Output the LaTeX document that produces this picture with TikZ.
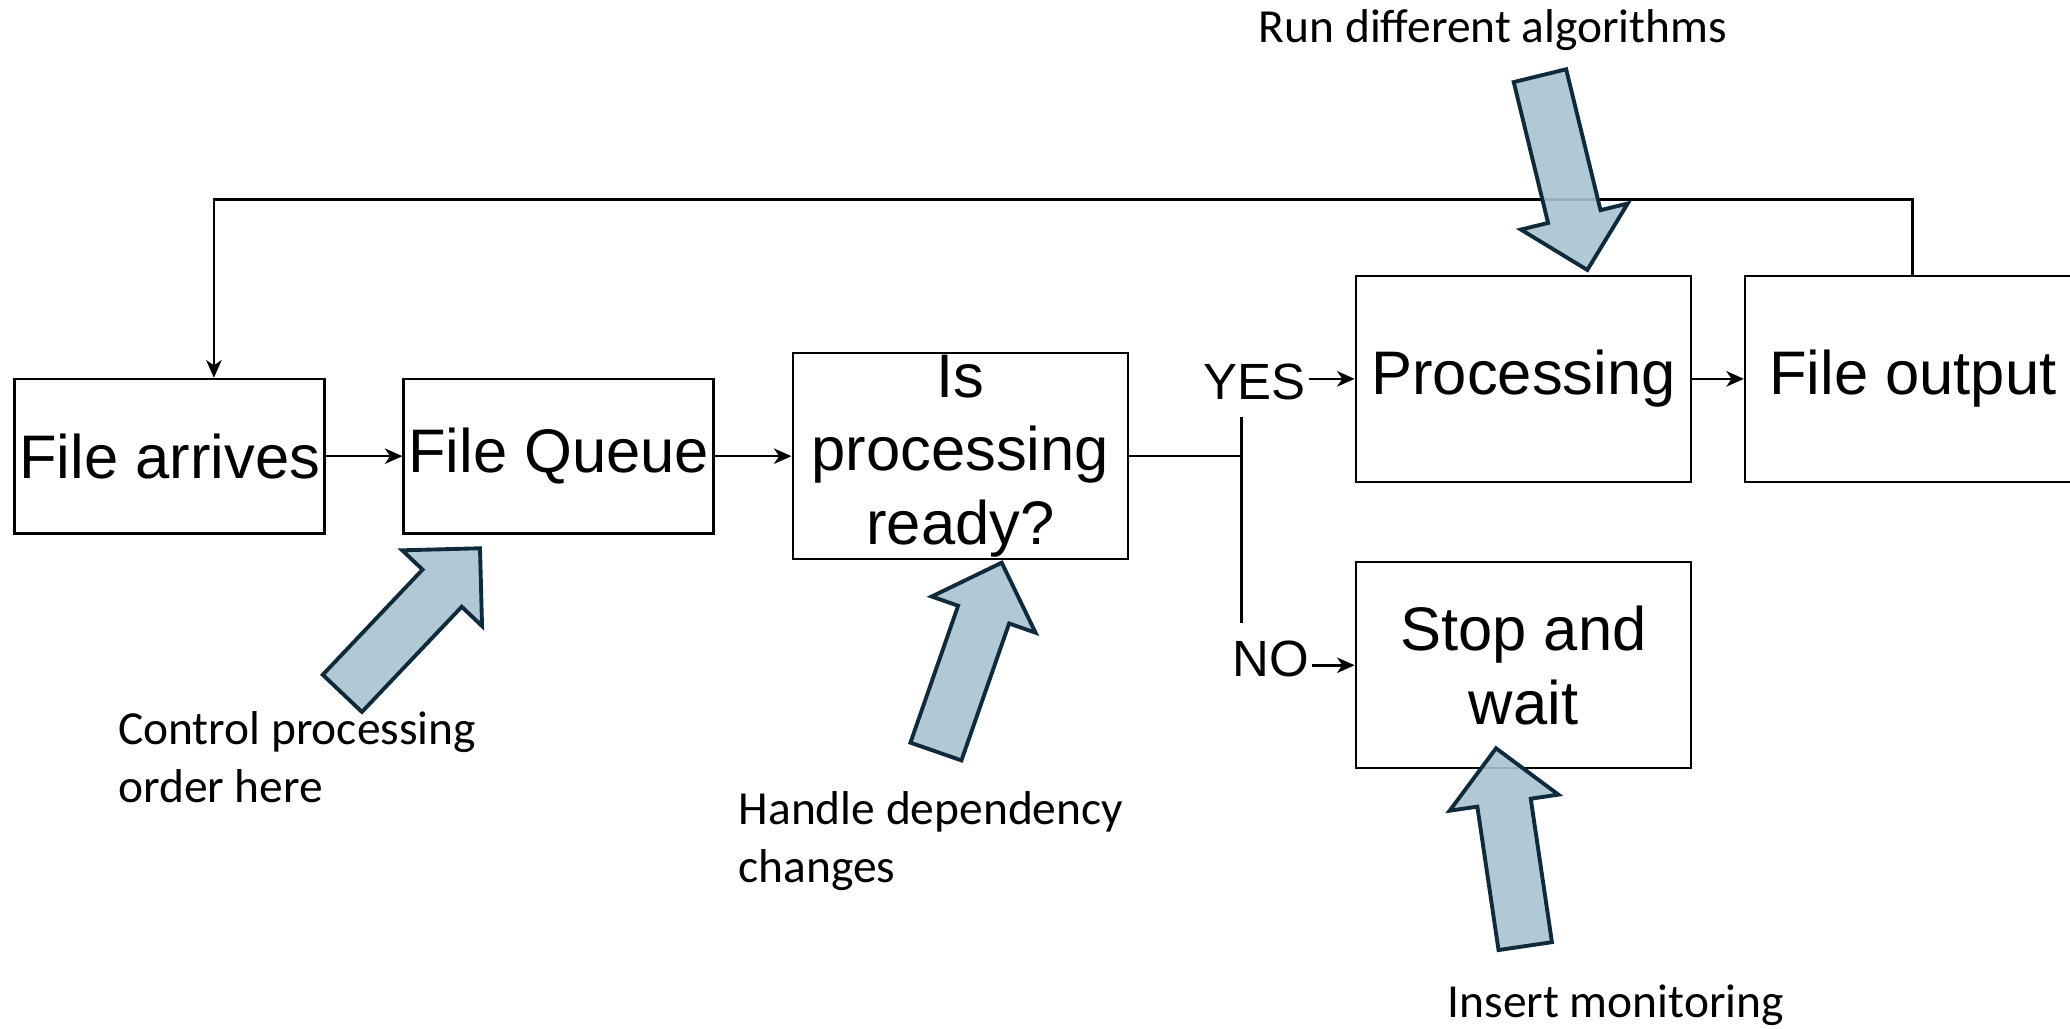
\documentclass[tikz,border=0pt]{standalone}
\usepackage{fontspec}
\setmainfont{Liberation Sans}
\newfontfamily\notefont{Carlito}
\usetikzlibrary{arrows.meta,positioning}

\definecolor{hintfill}{HTML}{A7C3CF}
\definecolor{hintline}{HTML}{0F2A3A}

\tikzset{
  stage/.style={draw, line width=0.7pt, inner sep=0pt, align=center,
    font=\fontsize{17.5}{21}\selectfont},
  smallstage/.style={stage, minimum width=3.10cm, minimum height=1.545cm},
  bigstage/.style={stage, minimum width=3.353cm, minimum height=2.06cm},
  flow/.style={line width=0.75pt, -{Stealth[length=5pt,width=4.4pt,inset=1.5pt]}},
  answer/.style={fill=white, inner xsep=1pt, inner ysep=5pt,
    font=\fontsize{14.5}{17}\selectfont},
  note/.style={inner sep=0pt, align=left, font=\notefont\fontsize{13.5}{16.5}\selectfont},
  hint/.style={draw=hintline, line width=1.1pt, fill=hintfill, fill opacity=0.9}
}

% block arrow, given its tip and the direction it points to
\newcommand{\hintarrow}[2]{%
  \draw[hint, shift={#1}, rotate=#2]
    (0,0) -- (-0.55,0.55) -- (-0.55,0.27) -- (-2,0.27)
    -- (-2,-0.27) -- (-0.55,-0.27) -- (-0.55,-0.55) -- cycle;}

\begin{document}
\begin{tikzpicture}
\useasboundingbox (0,0) rectangle (20.70,10.29);

% main flow
\node[smallstage] (arrives) at (1.697,5.728) {File arrives};
\node[smallstage, right=0.765cm of arrives] (queue) {File Queue};
\node[bigstage, right=0.766cm of queue] (ready) {Is\\processing\\ready?};
\node[bigstage] (proc) at (15.235,6.501) {Processing};
\node[bigstage, right=0.515cm of proc] (output) {File output};
\node[bigstage, below=0.779cm of proc] (stop) {Stop and\\wait};

\draw[flow] (arrives.east) -- (queue.west);
\draw[flow] (queue.east) -- (ready.west);

% decision split
\path (ready.east) ++(1.12,0) coordinate (split);
\draw[line width=0.75pt] (ready.east) -- (split);
\draw[flow] (split) |- (proc.west);
\draw[flow] (split) |- (stop.west);
\node[answer] (yes) at (12.548,6.475) {YES};
\node[answer] (no) at (12.707,3.70) {NO};

\draw[flow] (proc.east) -- (output.west);

% loop back to the start
\coordinate (back) at (2.139,8.297);
\draw[flow] (output.north) |- (back) -- (back |- arrives.north);

% hints
\hintarrow{(15.873,7.59)}{-76.3}
\hintarrow{(4.80,4.807)}{46.5}
\hintarrow{(10.017,4.663)}{70.8}
\hintarrow{(14.96,2.807)}{98.4}

\node[note, anchor=base] (algos) at (14.93,9.865) {Run different algorithms};
\node[note, anchor=west] (order) at (1.175,2.72) {Control processing\\order here};
\node[note, anchor=west] (deps) at (7.38,1.88) {Handle dependency\\changes};
\node[note, anchor=base west] (monitor) at (14.47,0.11) {Insert monitoring};
\end{tikzpicture}
\end{document}
